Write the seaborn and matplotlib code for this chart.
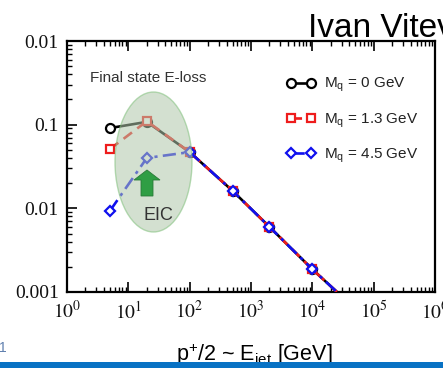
import numpy as np
import pandas as pd
import matplotlib
matplotlib.use("Agg")
import matplotlib.pyplot as plt
import seaborn as sns
from matplotlib.patches import Ellipse, Polygon, Rectangle
from matplotlib.ticker import LogLocator, NullFormatter

# ---- data -------------------------------------------------------------
energy = [5, 20, 100, 500, 2000, 10000, 50000]          # p+/2 ~ E_jet [GeV]
ratio_m0 = [0.091, 0.108, 0.047, 0.0162, 0.0060, 0.00187, 0.00063]
ratio_m13 = [0.051, 0.110, 0.047, 0.0162, 0.0060, 0.00187, 0.00063]
ratio_m45 = [0.0093, 0.040, 0.047, 0.0162, 0.0060, 0.00187, 0.00063]
series_labels = [r"$\mathregular{M_q}$ = 0 GeV",
                 r"$\mathregular{M_q}$ = 1.3 GeV",
                 r"$\mathregular{M_q}$ = 4.5 GeV"]
ytick_values = [1e-3, 1e-2, 1e-1, 1]
ytick_labels = ["0.001", "0.01", "0.1", "0.01"]
xtick_exponents = [0, 1, 2, 3, 4, 5, 6]

sns.set_theme(style="white")
plt.rcParams["font.family"] = ["Liberation Sans", "DejaVu Sans"]
plt.rcParams["mathtext.fontset"] = "custom"
plt.rcParams["mathtext.rm"] = "Liberation Sans"
plt.rcParams["mathtext.it"] = "Liberation Sans:italic"

W, H = 443, 368
fig = plt.figure(figsize=(W / 100, H / 100), dpi=100)
fig.patch.set_facecolor("white")
L, R, T, B = 67, 435, 41, 292
ax = fig.add_axes([L / W, 1 - B / H, (R - L) / W, (B - T) / H])
ax.set_facecolor("white")

df = pd.DataFrame({"E": energy, "m0": ratio_m0, "m13": ratio_m13, "m45": ratio_m45})

styles = [
    dict(col="m0", color="black", marker="o", ms=6.5, ls="-", mfc="white"),
    dict(col="m13", color="#ee1c1c", marker="s", ms=5.5, ls=(0, (4, 2.5)), mfc="white"),
    dict(col="m45", color="#1010ee", marker="D", ms=5, ls=(0, (5, 2, 1.2, 2)), mfc="white"),
]
for st, lab in zip(styles, series_labels):
    sns.lineplot(data=df, x="E", y=st["col"], ax=ax, color=st["color"],
                 marker=st["marker"], markersize=st["ms"], linestyle=st["ls"],
                 linewidth=1.9, markerfacecolor=st["mfc"],
                 markeredgecolor=st["color"], markeredgewidth=1.6,
                 label=lab, sort=False, zorder=3)

ax.set_xscale("log")
ax.set_yscale("log")
ax.set_xlim(1, 1e6)
ax.set_ylim(1e-3, 1)

# ticks
ax.set_yticks(ytick_values)
ax.set_yticklabels(ytick_labels)
ax.set_xticks([10.0 ** e for e in xtick_exponents])
ax.set_xticklabels([r"$10^{%d}$" % e for e in xtick_exponents])
ax.xaxis.set_minor_locator(LogLocator(base=10, subs=np.arange(2, 10), numticks=20))
ax.yaxis.set_minor_locator(LogLocator(base=10, subs=np.arange(2, 10), numticks=20))
ax.xaxis.set_minor_formatter(NullFormatter())
ax.yaxis.set_minor_formatter(NullFormatter())
ax.tick_params(which="both", direction="in", top=True, right=False,
               bottom=True, left=True, color="black")
ax.tick_params(which="major", length=7, width=1.2, labelsize=14, pad=6)
ax.tick_params(which="minor", length=3.5, width=1.0)
for lbl in ax.get_xticklabels() + ax.get_yticklabels():
    lbl.set_fontfamily("Liberation Serif")
    lbl.set_math_fontfamily("stix")
    lbl.set_color("#111111")
ax.set_xlabel("")
ax.set_ylabel("")
for sp in ax.spines.values():
    sp.set_visible(True)
    sp.set_color("black")
    sp.set_linewidth(1.6)
ax.grid(False)

# highlighted EIC region
ell = Ellipse(((153.5 - L) / (R - L), (B - 162) / (B - T)),
              77 / (R - L), 140 / (B - T), transform=ax.transAxes,
              facecolor="#b0c8ab", edgecolor="#80c07b", alpha=0.55,
              linewidth=1.0, zorder=4)
ax.add_patch(ell)

# upward arrow inside the region
arrow_px = [(147, 170), (160, 180), (153, 180), (153, 196),
            (141, 196), (141, 180), (134, 180)]
arrow_ax = [((x - L) / (R - L), (B - y) / (B - T)) for x, y in arrow_px]
ax.add_patch(Polygon(arrow_ax, closed=True, transform=ax.transAxes,
                     facecolor="#2f9e44", edgecolor="#2a7a38", linewidth=0.6, zorder=5))
ax.text((158 - L) / (R - L), (B - 215) / (B - T), "EIC", transform=ax.transAxes,
        ha="center", va="center", fontsize=13, color="#333333", zorder=6)
ax.text((148 - L) / (R - L), (B - 78) / (B - T), "Final state E-loss",
        transform=ax.transAxes, ha="center", va="center", fontsize=11,
        color="#333333", zorder=6)

leg = ax.legend(loc="upper left", bbox_to_anchor=((280 - L) / (R - L), (B - 70) / (B - T)),
                frameon=False, numpoints=2, handlelength=1.9, handletextpad=0.6,
                labelspacing=1.1, fontsize=11, borderaxespad=0)
for t in leg.get_texts():
    t.set_color("#222222")

# header, axis title and slide footer
fig.text(308 / W, 1 - 37 / H, "Ivan Vitev", fontsize=24, color="black",
         ha="left", va="baseline")
fig.text(254 / W, 1 - 360 / H, r"p$^{+}$/2 ~ E$_{\mathrm{jet}}$ [GeV]",
         fontsize=15.5, color="black", ha="center", va="baseline")
fig.text(-1 / W, 1 - 352 / H, "1", fontsize=10, color="#5f7fae", ha="left",
         va="baseline")
fig.add_artist(Rectangle((0, 0), 1, 6 / H, transform=fig.transFigure,
                         facecolor="#0872c4", edgecolor="none", zorder=10))

fig.savefig("out.png", dpi=100, facecolor="white")
